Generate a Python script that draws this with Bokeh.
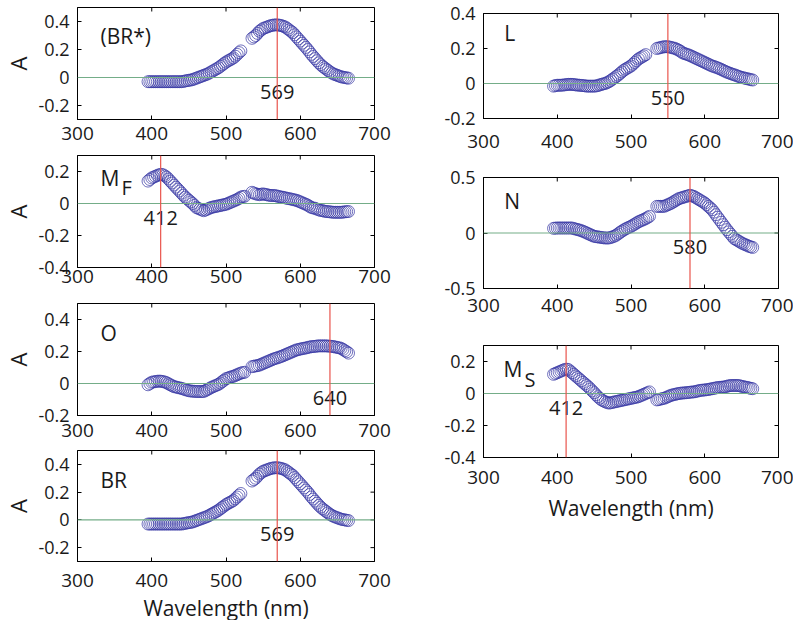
import math
from bokeh.plotting import figure
from bokeh.layouts import row, column
from bokeh.models import Span, FixedTicker, Range1d
from bokeh.core.properties import value
from bokeh.embed import file_html
from bokeh.resources import INLINE

FONT = "Open Sans"
NAN = float("nan")

# wavelengths (nm) of the two measured segments (main samples and in-between samples)
WL_A = [395, 400, 405, 410, 415, 420, 425, 430, 435, 440, 445, 450, 455, 460,
        465, 470, 475, 480, 485, 490, 495, 500, 505, 510, 515, 520, 525]
WL_B = [535, 540, 545, 550, 555, 560, 565, 570, 575, 580, 585, 590, 595, 600,
        605, 610, 615, 620, 625, 630, 635, 640, 645, 650, 655, 660, 665]
WL_A_MID = [397.5, 402.5, 407.5, 412.5, 417.5, 422.5, 427.5, 432.5, 437.5, 442.5, 447.5, 452.5, 457.5,
            462.5, 467.5, 472.5, 477.5, 482.5, 487.5, 492.5, 497.5, 502.5, 507.5, 512.5, 517.5, 522.5]
WL_B_MID = [537.5, 542.5, 547.5, 552.5, 557.5, 562.5, 567.5, 572.5, 577.5, 582.5, 587.5, 592.5, 597.5,
            602.5, 607.5, 612.5, 617.5, 622.5, 627.5, 632.5, 637.5, 642.5, 647.5, 652.5, 657.5, 662.5]

X_RANGE = (300, 700)
X_TICKS = [300, 400, 500, 600, 700]
X_TICK_LABELS = ["300", "400", "500", "600", "700"]

BR_A = [-0.03, -0.03, -0.03, -0.03, -0.03, -0.03, -0.03, -0.03, -0.03, -0.03, -0.025, -0.02, -0.015, -0.005,
        0.005, 0.015, 0.025, 0.04, 0.055, 0.07, 0.09, 0.11, 0.125, 0.14, 0.165, 0.19, NAN]
BR_A_MID = [-0.03, -0.03, -0.03, -0.03, -0.03, -0.03, -0.03, -0.03, -0.03, -0.028, -0.022, -0.018, -0.01,
            0.0, 0.01, 0.02, 0.032, 0.047, 0.062, 0.08, 0.1, 0.118, 0.132, 0.152, 0.178, NAN]
BR_B = [0.28, 0.30, 0.33, 0.35, 0.36, 0.37, 0.375, 0.375, 0.37, 0.36, 0.34, 0.32, 0.29, 0.26,
        0.23, 0.20, 0.165, 0.135, 0.105, 0.08, 0.06, 0.04, 0.025, 0.015, 0.005, 0.0, -0.005]
BR_B_MID = [0.29, 0.315, 0.34, 0.355, 0.365, 0.373, 0.376, 0.373, 0.365, 0.35, 0.33, 0.305, 0.275,
            0.245, 0.215, 0.183, 0.15, 0.12, 0.092, 0.07, 0.05, 0.032, 0.02, 0.01, 0.002, -0.003]

L_A = [-0.015, -0.01, -0.01, -0.008, -0.005, -0.005, -0.008, -0.01, -0.012, -0.015, -0.015, -0.015, -0.012, -0.005,
       0.0, 0.01, 0.025, 0.04, 0.057, 0.075, 0.088, 0.10, 0.12, 0.14, 0.152, 0.165, NAN]
L_A_MID = [-0.012, -0.01, -0.009, -0.006, -0.005, -0.006, -0.009, -0.011, -0.013, -0.015, -0.015, -0.014, -0.008,
           -0.002, 0.005, 0.017, 0.032, 0.048, 0.066, 0.082, 0.094, 0.11, 0.13, 0.146, 0.158, NAN]
L_B = [0.20, 0.205, 0.21, 0.21, 0.205, 0.20, 0.19, 0.175, 0.168, 0.16, 0.15, 0.14, 0.13, 0.12,
       0.11, 0.10, 0.093, 0.085, 0.075, 0.065, 0.057, 0.05, 0.042, 0.035, 0.03, 0.025, 0.02]
L_B_MID = [0.203, 0.208, 0.21, 0.208, 0.203, 0.195, 0.183, 0.171, 0.164, 0.155, 0.145, 0.135, 0.125,
           0.115, 0.105, 0.097, 0.089, 0.08, 0.07, 0.061, 0.053, 0.046, 0.038, 0.032, 0.027, 0.022]

MF_A = [0.14, 0.16, 0.17, 0.18, 0.18, 0.165, 0.14, 0.115, 0.09, 0.065, 0.04, 0.02, 0.0, -0.025,
        -0.035, -0.045, -0.035, -0.025, -0.02, -0.015, -0.01, -0.005, 0.005, 0.015, 0.025, 0.04, 0.045]
MF_A_MID = [0.15, 0.165, 0.175, 0.182, 0.173, 0.153, 0.128, 0.102, 0.078, 0.052, 0.03, 0.01, -0.012,
            -0.03, -0.04, -0.04, -0.03, -0.022, -0.017, -0.012, -0.007, 0.0, 0.01, 0.02, 0.032, 0.043]
MF_B = [0.07, 0.06, 0.055, 0.06, 0.055, 0.05, 0.05, 0.045, 0.04, 0.035, 0.03, 0.025, 0.02, 0.01,
        0.0, -0.01, -0.025, -0.03, -0.04, -0.045, -0.05, -0.052, -0.055, -0.055, -0.055, -0.052, -0.05]
MF_B_MID = [0.065, 0.058, 0.058, 0.057, 0.052, 0.05, 0.048, 0.042, 0.038, 0.032, 0.028, 0.022, 0.015,
            0.005, -0.005, -0.018, -0.028, -0.035, -0.043, -0.048, -0.051, -0.054, -0.055, -0.055, -0.054, -0.051]

N_A = [0.042, 0.045, 0.045, 0.045, 0.045, 0.045, 0.035, 0.027, 0.015, 0.0, -0.015, -0.03, -0.035, -0.04,
       -0.045, -0.045, -0.035, -0.02, 0.005, 0.027, 0.045, 0.06, 0.08, 0.10, 0.115, 0.13, 0.15]
N_A_MID = [0.044, 0.045, 0.045, 0.045, 0.045, 0.04, 0.031, 0.021, 0.008, -0.008, -0.023, -0.033, -0.038,
           -0.043, -0.045, -0.04, -0.028, -0.008, 0.016, 0.036, 0.052, 0.07, 0.09, 0.108, 0.122, 0.14]
N_B = [0.24, 0.24, 0.24, 0.255, 0.27, 0.29, 0.31, 0.32, 0.33, 0.34, 0.33, 0.31, 0.29, 0.27,
       0.24, 0.21, 0.165, 0.12, 0.075, 0.03, -0.01, -0.05, -0.07, -0.09, -0.105, -0.12, -0.13]
N_B_MID = [0.24, 0.24, 0.248, 0.262, 0.28, 0.3, 0.315, 0.325, 0.335, 0.335, 0.32, 0.3, 0.28,
           0.255, 0.225, 0.188, 0.142, 0.097, 0.052, 0.01, -0.03, -0.06, -0.08, -0.098, -0.112, -0.125]

O_A = [-0.008, 0.008, 0.012, 0.015, 0.012, 0.005, -0.008, -0.02, -0.025, -0.03, -0.038, -0.045, -0.048, -0.05,
       -0.05, -0.05, -0.038, -0.025, -0.015, -0.005, 0.012, 0.03, 0.038, 0.045, 0.055, 0.065, 0.07]
O_A_MID = [0.0, 0.01, 0.014, 0.014, 0.009, -0.002, -0.014, -0.022, -0.028, -0.034, -0.042, -0.047, -0.049,
           -0.05, -0.05, -0.044, -0.032, -0.02, -0.01, 0.003, 0.021, 0.034, 0.042, 0.05, 0.06, 0.068]
O_B = [0.105, 0.11, 0.115, 0.125, 0.135, 0.145, 0.155, 0.162, 0.17, 0.18, 0.19, 0.20, 0.21, 0.215,
       0.22, 0.225, 0.23, 0.232, 0.235, 0.235, 0.235, 0.233, 0.23, 0.225, 0.22, 0.205, 0.19]
O_B_MID = [0.108, 0.112, 0.12, 0.13, 0.14, 0.15, 0.158, 0.166, 0.175, 0.185, 0.195, 0.205, 0.212,
           0.218, 0.222, 0.228, 0.231, 0.234, 0.235, 0.235, 0.234, 0.232, 0.228, 0.223, 0.213, 0.198]

MS_A = [0.12, 0.13, 0.14, 0.15, 0.15, 0.13, 0.11, 0.09, 0.07, 0.05, 0.028, 0.005, -0.02, -0.04,
        -0.052, -0.06, -0.055, -0.05, -0.045, -0.04, -0.035, -0.03, -0.025, -0.02, -0.01, 0.0, 0.01]
MS_A_MID = [0.125, 0.135, 0.145, 0.152, 0.14, 0.12, 0.1, 0.08, 0.06, 0.04, 0.016, -0.008, -0.03,
            -0.046, -0.056, -0.058, -0.053, -0.048, -0.043, -0.038, -0.033, -0.028, -0.023, -0.015, -0.005, 0.005]
MS_B = [-0.04, -0.035, -0.03, -0.02, -0.01, -0.005, 0.0, 0.003, 0.005, 0.008, 0.01, 0.015, 0.02, 0.022,
        0.025, 0.03, 0.035, 0.038, 0.04, 0.045, 0.05, 0.05, 0.05, 0.045, 0.04, 0.035, 0.03]
MS_B_MID = [-0.038, -0.032, -0.025, -0.015, -0.008, -0.002, 0.002, 0.004, 0.006, 0.009, 0.012, 0.018, 0.021,
            0.024, 0.028, 0.032, 0.037, 0.039, 0.042, 0.048, 0.05, 0.05, 0.048, 0.042, 0.038, 0.032]

# peak wavelengths marked by the red lines
PEAKS = {"BR*": 569, "MF": 412, "O": 640, "BR": 569, "L": 550, "N": 580, "MS": 412}

Y_RANGES = {"BR*": (-0.3, 0.5), "MF": (-0.4, 0.3), "O": (-0.2, 0.5), "BR": (-0.3, 0.5),
            "L": (-0.2, 0.4), "N": (-0.5, 0.5), "MS": (-0.4, 0.3)}
Y_TICKS = {"BR*": [-0.2, 0, 0.2, 0.4], "MF": [-0.4, -0.2, 0, 0.2], "O": [-0.2, 0, 0.2, 0.4],
           "BR": [-0.2, 0, 0.2, 0.4], "L": [-0.2, 0, 0.2, 0.4], "N": [-0.5, 0, 0.5],
           "MS": [-0.4, -0.2, 0, 0.2]}
Y_TICK_LABELS = {"BR*": ["-0.2", "0", "0.2", "0.4"], "MF": ["-0.4", "-0.2", "0", "0.2"],
                 "O": ["-0.2", "0", "0.2", "0.4"], "BR": ["-0.2", "0", "0.2", "0.4"],
                 "L": ["-0.2", "0", "0.2", "0.4"], "N": ["-0.5", "0", "0.5"],
                 "MS": ["-0.4", "-0.2", "0", "0.2"]}
SERIES = {"BR*": (BR_A, BR_A_MID, BR_B, BR_B_MID), "MF": (MF_A, MF_A_MID, MF_B, MF_B_MID),
          "O": (O_A, O_A_MID, O_B, O_B_MID), "BR": (BR_A, BR_A_MID, BR_B, BR_B_MID),
          "L": (L_A, L_A_MID, L_B, L_B_MID), "N": (N_A, N_A_MID, N_B, N_B_MID),
          "MS": (MS_A, MS_A_MID, MS_B, MS_B_MID)}

# panel label text, subscript, position (data units)
LABELS = {"BR*": ("(BR*)", "", 331, 0.30), "MF": ("M", "F", 331, 0.16), "O": ("O", "", 331, 0.315),
          "BR": ("BR", "", 331, 0.286), "L": ("L", "", 328, 0.29), "N": ("N", "", 328, 0.29),
          "MS": ("M", "S", 327, 0.152)}

CIRCLE = "#3434a2"
RED = "#e9544c"
GREEN = "#74ad88"
INK = "#1a1a1a"


def panel(key, frame_w, frame_h, b_left, b_right, b_top, b_bottom, xstand, ylabel, xlabel, xl_stand=0):
    y0, y1 = Y_RANGES[key]
    p = figure(frame_width=frame_w, frame_height=frame_h,
               x_range=Range1d(*X_RANGE), y_range=Range1d(y0, y1),
               min_border_left=b_left, min_border_right=b_right,
               min_border_top=b_top, min_border_bottom=b_bottom,
               output_backend="svg", toolbar_location=None,
               background_fill_color="white", border_fill_color="white")
    p.xgrid.visible = False
    p.ygrid.visible = False
    p.outline_line_color = "black"
    p.outline_line_width = 1

    xa = p.xaxis[0]
    xa.ticker = FixedTicker(ticks=X_TICKS)
    xa.major_label_overrides = {t: s for t, s in zip(X_TICKS, X_TICK_LABELS)}
    xa.major_label_text_font = FONT
    xa.major_label_text_font_size = "19px"
    xa.major_label_text_color = INK
    xa.major_label_standoff = xstand
    ya = p.yaxis[0]
    ya.ticker = FixedTicker(ticks=Y_TICKS[key])
    ya.major_label_overrides = {t: s for t, s in zip(Y_TICKS[key], Y_TICK_LABELS[key])}
    ya.major_label_text_font = FONT
    ya.major_label_text_font_size = "18px"
    ya.major_label_text_color = INK
    ya.major_label_standoff = 8
    for ax in (xa, ya):
        ax.major_tick_in = 4
        ax.major_tick_out = 0
        ax.minor_tick_line_color = None
        ax.axis_line_color = "black"
        ax.major_tick_line_color = "black"
    if ylabel:
        ya.axis_label = ylabel
        ya.axis_label_text_font = FONT
        ya.axis_label_text_font_size = "22px"
        ya.axis_label_text_font_style = "normal"
        ya.axis_label_text_color = INK
        ya.axis_label_standoff = 2
    if xlabel:
        xa.axis_label = xlabel
        xa.axis_label_text_font = FONT
        xa.axis_label_text_font_size = "21px"
        xa.axis_label_text_font_style = "normal"
        xa.axis_label_text_color = INK
        xa.axis_label_standoff = xl_stand

    # mirrored inward tick marks on the right and top frame edges
    p.scatter(x=[X_RANGE[1]] * len(Y_TICKS[key]), y=Y_TICKS[key], marker="dash",
              size=8, line_color="black", line_width=1)
    p.scatter(x=X_TICKS, y=[y1] * len(X_TICKS), marker="dash", angle=math.pi / 2,
              size=8, line_color="black", line_width=1)

    a_main, a_mid, b_main, b_mid = SERIES[key]
    for xs, ys in ((WL_A, a_main), (WL_A_MID, a_mid), (WL_B, b_main), (WL_B_MID, b_mid)):
        p.scatter(xs, ys, marker="circle", size=12, fill_color=None,
                  line_color=CIRCLE, line_alpha=0.7, line_width=1)

    p.add_layout(Span(location=0, dimension="width", line_color=GREEN, line_width=1.2))
    p.add_layout(Span(location=PEAKS[key], dimension="height", line_color=RED, line_width=1.2))

    p.text(x=[PEAKS[key]], y=[0], text=[str(PEAKS[key])], text_font=value(FONT),
           text_font_size="20px", text_align="center", text_baseline="top",
           y_offset=7, text_color=INK)

    name, sub, lx, ly = LABELS[key]
    p.text(x=[lx], y=[ly], text=[name], text_font=value(FONT), text_font_size="21px",
           text_align="left", text_baseline="middle", text_color=INK)
    if sub:
        p.text(x=[lx], y=[ly], text=[sub], text_font=value(FONT), text_font_size="20px",
               text_align="left", text_baseline="middle", x_offset=21, y_offset=10,
               text_color=INK)
    return p


LW, LBL, LBR = 297, 76, 49
RW, RBL, RBR = 295, 60, 15

p1 = panel("BR*", LW, 112, LBL, LBR, 7, 31, 7, "A", None)
p2 = panel("MF", LW, 112, LBL, LBR, 5, 31, 2, "A", None)
p3 = panel("O", LW, 112, LBL, LBR, 5, 30, 8, "A", None)
p4 = panel("BR", LW, 111, LBL, LBR, 5, 57, 12, "A", "Wavelength (nm)", 4)

r1 = panel("L", RW, 105, RBL, RBR, 13, 40, 16, None, None)
r2 = panel("N", RW, 111, RBL, RBR, 19, 39, 10, None, None)
r3 = panel("MS", RW, 112, RBL, RBR, 18, 62, 13, None, "Wavelength (nm)", 7)

layout = row(column(p1, p2, p3, p4), column(r1, r2, r3))

open("out.html", "w").write(file_html(layout, INLINE))
